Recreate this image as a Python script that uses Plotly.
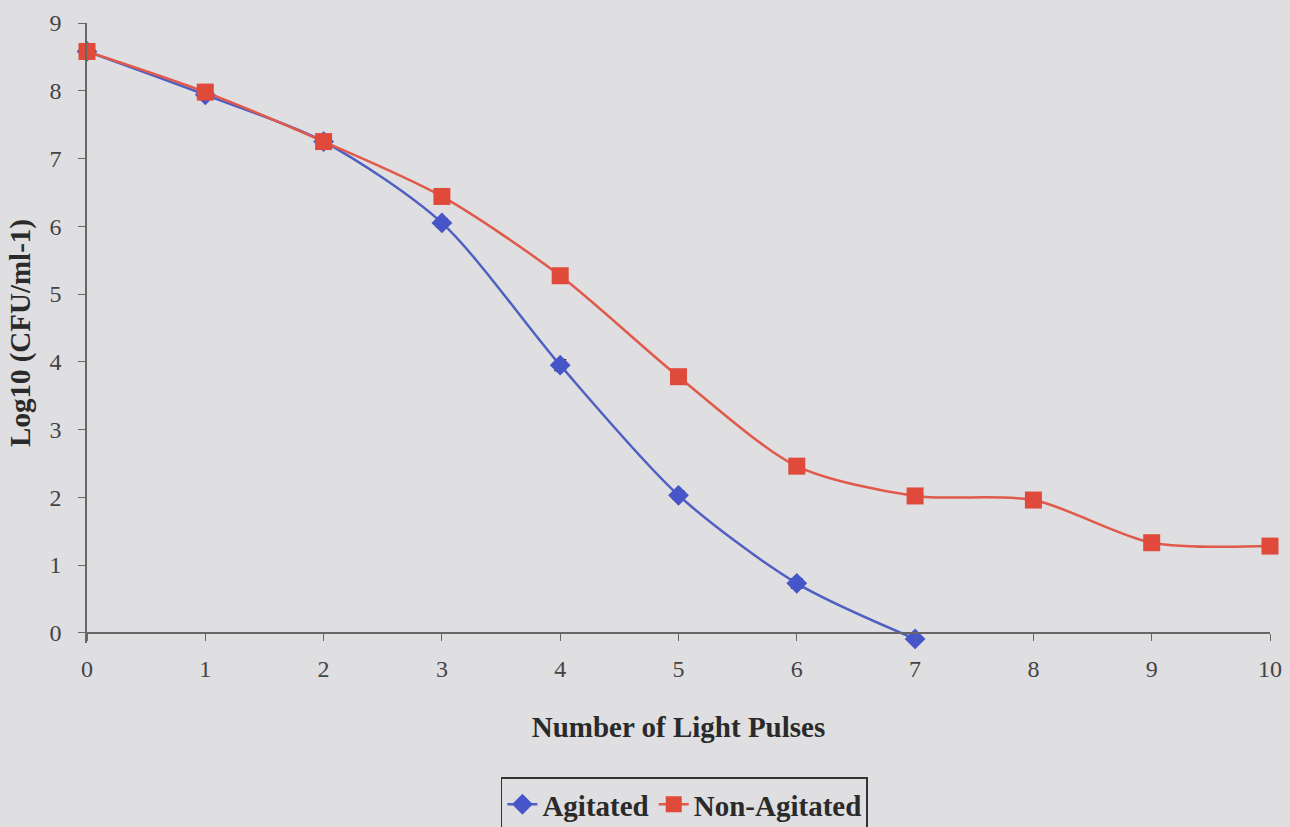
import plotly.graph_objects as go

pulses = [0, 1, 2, 3, 4, 5, 6, 7, 8, 9, 10]
agitated_x = [0, 1, 2, 3, 4, 5, 6, 7]
agitated = [8.58, 7.94, 7.25, 6.05, 3.95, 2.03, 0.73, -0.09]
agitated_err = [0.05, 0.05, 0.05, 0.06, 0.08, 0.06, 0.07, 0.0]
nonagitated = [8.58, 7.98, 7.25, 6.44, 5.27, 3.78, 2.46, 2.02, 1.96, 1.33, 1.28]
nonagitated_err = [0.05, 0.05, 0.05, 0.05, 0.05, 0.05, 0.05, 0.06, 0.05, 0.05, 0.06]
xticks = list(range(0, 11))
yticks = list(range(0, 10))

BG = "#dfdee1"
FONT = "Liberation Serif"
Y_LOW = -0.15
Y_HIGH = 9

fig = go.Figure()
fig.add_trace(go.Scatter(
    x=agitated_x, y=agitated, name="Agitated", mode="lines+markers",
    line=dict(color="#4f5fc2", width=2.5, shape="spline", smoothing=0.8),
    marker=dict(symbol="diamond", size=16, color="#4656c8"),
    error_y=dict(type="data", array=agitated_err, color="#222222", thickness=1.5, width=6),
    cliponaxis=False,
))
fig.add_trace(go.Scatter(
    x=pulses, y=nonagitated, name="Non-Agitated", mode="lines+markers",
    line=dict(color="#e0594a", width=2.5, shape="spline", smoothing=0.8),
    marker=dict(symbol="square", size=17, color="#e04a3a"),
    error_y=dict(type="data", array=nonagitated_err, color="#222222", thickness=1.5, width=6),
    cliponaxis=False,
))

fig.update_layout(
    width=1290, height=827,
    paper_bgcolor=BG, plot_bgcolor=BG,
    margin=dict(l=87, r=20, t=23, b=184),
    font=dict(family=FONT, size=24, color="#333333"),
    showlegend=True,
    legend=dict(
        orientation="h", x=0.505, xanchor="center",
        yref="container", y=0.06, yanchor="top",
        bordercolor="#333333", borderwidth=1.5, bgcolor=BG,
        font=dict(family=FONT, size=29, color="#2a2a2a", weight="bold"),
    ),
    xaxis=dict(
        range=[0, 10], tickvals=xticks, showgrid=False, zeroline=False,
        anchor="free", position=(0 - Y_LOW) / (Y_HIGH - Y_LOW),
        showline=True, linecolor="#666666", linewidth=1.5,
        ticks="outside", ticklen=7, tickcolor="#666666",
        ticklabelstandoff=8, automargin=False,
        tickfont=dict(family=FONT, size=24, color="#444444"),
        title=dict(text="<b>Number of Light Pulses</b>", standoff=34,
                   font=dict(family=FONT, size=29, color="#2a2a2a")),
    ),
    yaxis=dict(
        range=[Y_LOW, Y_HIGH], tickvals=yticks, showgrid=False, zeroline=False,
        showline=True, linecolor="#666666", linewidth=1.5,
        ticks="outside", ticklen=7, tickcolor="#666666",
        ticklabelstandoff=12, automargin=False,
        tickfont=dict(family=FONT, size=24, color="#444444"),
        title=dict(text="<b>Log10 (CFU/ml-1)</b>", standoff=10,
                   font=dict(family=FONT, size=29, color="#2a2a2a")),
    ),
)

fig.write_html(
    "out.html",
    config={"displayModeBar": False},
    post_script="document.body.style.margin='0px';document.body.style.background='%s';" % BG,
)
